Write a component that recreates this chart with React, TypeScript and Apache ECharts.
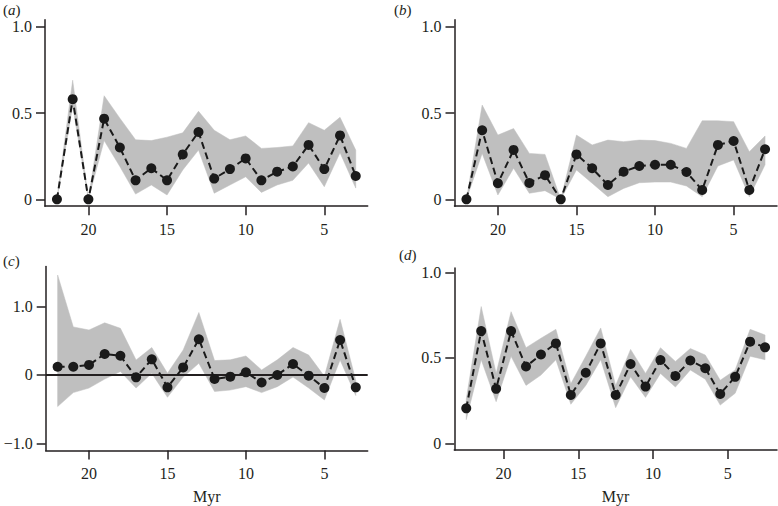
import React, { useEffect, useRef } from "react";
import * as echarts from "echarts";

// ---------- data ----------
const yearsABC = [22, 21, 20, 19, 18, 17, 16, 15, 14, 13, 12, 11, 10, 9, 8, 7, 6, 5, 4, 3];
const yearsD = [22.5, 21.5, 20.5, 19.5, 18.5, 17.5, 16.5, 15.5, 14.5, 13.5, 12.5, 11.5, 10.5, 9.5, 8.5, 7.5, 6.5, 5.5, 4.5, 3.5, 2.5];

const meanA = [0, 0.58, 0, 0.467, 0.3, 0.11, 0.18, 0.11, 0.26, 0.39, 0.12, 0.175, 0.237, 0.11, 0.16, 0.19, 0.315, 0.175, 0.37, 0.135];
const upperA = [0, 0.69, 0, 0.6, 0.47, 0.345, 0.34, 0.36, 0.385, 0.51, 0.4, 0.345, 0.367, 0.295, 0.3, 0.309, 0.444, 0.4, 0.475, 0.285];
const lowerA = [0, 0.54, 0, 0.34, 0.19, 0.03, 0.083, 0.025, 0.17, 0.285, 0.035, 0.083, 0.13, 0.04, 0.083, 0.11, 0.21, 0.073, 0.27, 0.065];

const meanB = [0, 0.4, 0.093, 0.286, 0.095, 0.14, 0, 0.26, 0.18, 0.083, 0.16, 0.193, 0.2, 0.2, 0.158, 0.054, 0.315, 0.338, 0.054, 0.29];
const upperB = [0, 0.546, 0.372, 0.41, 0.266, 0.26, 0, 0.372, 0.315, 0.343, 0.334, 0.343, 0.34, 0.324, 0.295, 0.455, 0.455, 0.45, 0.276, 0.367];
const lowerB = [0, 0.266, 0.025, 0.18, 0.035, 0.05, 0, 0.17, 0.093, 0.015, 0.063, 0.096, 0.1, 0.1, 0.077, 0.015, 0.193, 0.228, 0.015, 0.2];

const meanC = [0.12, 0.12, 0.146, 0.306, 0.28, -0.034, 0.228, -0.18, 0.11, 0.52, -0.058, -0.024, 0.039, -0.11, 0.0, 0.16, -0.01, -0.19, 0.51, -0.18];
const upperC = [1.456, 0.7, 0.655, 0.76, 0.68, 0.218, 0.4, 0.025, 0.364, 0.91, 0.21, 0.22, 0.277, 0.073, 0.22, 0.4, 0.29, -0.02, 0.81, -0.08];
const lowerC = [-0.46, -0.257, -0.19, -0.06, 0.05, -0.19, 0.025, -0.325, -0.03, 0.17, -0.24, -0.22, -0.17, -0.257, -0.17, -0.03, -0.19, -0.364, 0.218, -0.3];

const meanD = [0.206, 0.657, 0.32, 0.657, 0.45, 0.52, 0.585, 0.284, 0.414, 0.585, 0.284, 0.465, 0.333, 0.488, 0.395, 0.485, 0.44, 0.29, 0.39, 0.595, 0.562];
const upperD = [0.26, 0.8, 0.41, 0.77, 0.56, 0.615, 0.667, 0.35, 0.51, 0.675, 0.34, 0.55, 0.41, 0.56, 0.48, 0.555, 0.517, 0.37, 0.43, 0.667, 0.634];
const lowerD = [0.14, 0.49, 0.245, 0.51, 0.34, 0.4, 0.49, 0.23, 0.34, 0.49, 0.21, 0.39, 0.27, 0.41, 0.33, 0.43, 0.376, 0.225, 0.294, 0.51, 0.49];

const xTicks = [20, 15, 10, 5];
const yTicksPos = [0, 0.5, 1];
const yTicksC = [-1, 0, 1];
const zeroLineC = [0, 0];
const panelLabels = ["a", "b", "c", "d"];
const xAxisName = "Myr";

// ---------- styling ----------
const FONT = "Liberation Serif";
const INK = "#231f20";
const BAND = "#bfbfbf";
const FS = 16;

const panels = [
  { years: yearsABC, mean: meanA, up: upperA, lo: lowerA, grid: { left: 45, top: 19.8, width: 322.7, height: 186.4 }, x: [2.24, 22.76], y: [-0.04, 1.04], yt: yTicksPos, name: false },
  { years: yearsABC, mean: meanB, up: upperB, lo: lowerB, grid: { left: 454.5, top: 19.8, width: 322.5, height: 186.4 }, x: [2.24, 22.76], y: [-0.04, 1.04], yt: yTicksPos, name: false },
  { years: yearsABC, mean: meanC, up: upperC, lo: lowerC, grid: { left: 45.7, top: 266.5, width: 322, height: 184 }, x: [2.24, 22.76], y: [-1.1, 1.58], yt: yTicksC, name: true },
  { years: yearsD, mean: meanD, up: upperD, lo: lowerD, grid: { left: 454.3, top: 268, width: 322.7, height: 182 }, x: [1.7, 23.3], y: [-0.037, 1.025], yt: yTicksPos, name: true },
];

const labelPos = [
  { x: 3, y: 2 },
  { x: 394, y: 2 },
  { x: 3, y: 253 },
  { x: 399, y: 247 },
];

function fmtY(v: number) {
  if (Math.abs(v) < 1e-9) return "0";
  const s = Math.abs(v).toFixed(1);
  return v < 0 ? "\u2212" + s : s;
}

function buildOption() {
  const grid: any[] = [];
  const xAxis: any[] = [];
  const yAxis: any[] = [];
  const series: any[] = [];
  const lineStyle = { color: INK, width: 1.5 };
  const labelStyle = { fontFamily: FONT, fontSize: FS, color: INK };

  panels.forEach((p, i) => {
    grid.push({ ...p.grid, containLabel: false });
    xAxis.push({
      type: "value",
      gridIndex: i,
      min: p.x[0],
      max: p.x[1],
      inverse: true,
      axisLine: { show: true, onZero: false, lineStyle },
      axisTick: { show: true, length: 9, customValues: xTicks, lineStyle },
      axisLabel: { show: true, customValues: xTicks, margin: 15, ...labelStyle },
      splitLine: { show: false },
      name: p.name ? xAxisName : "",
      nameLocation: "middle",
      nameGap: 38,
      nameTextStyle: { ...labelStyle },
    });
    yAxis.push({
      type: "value",
      gridIndex: i,
      min: p.y[0],
      max: p.y[1],
      axisLine: { show: true, onZero: false, lineStyle },
      axisTick: { show: true, length: 9, customValues: p.yt, lineStyle },
      axisLabel: { show: true, customValues: p.yt, margin: 13, formatter: (v: number) => fmtY(v), ...labelStyle },
      splitLine: { show: false },
    });

    const years = p.years;
    const up = p.up;
    const lo = p.lo;
    series.push({
      type: "custom",
      xAxisIndex: i,
      yAxisIndex: i,
      silent: true,
      z: 1,
      data: years.map((x, k) => [x, lo[k], up[k]]),
      encode: { x: 0, y: [1, 2] },
      renderItem: (params: any, api: any) => {
        if (params.dataIndex !== 0) return null;
        const pts: number[][] = [];
        for (let k = 0; k < years.length; k++) pts.push(api.coord([years[k], up[k]]));
        for (let k = years.length - 1; k >= 0; k--) pts.push(api.coord([years[k], lo[k]]));
        return { type: "polygon", shape: { points: pts }, style: { fill: BAND, stroke: BAND, lineWidth: 0.5 } };
      },
    });

    if (i === 2) {
      series.push({
        type: "line",
        xAxisIndex: i,
        yAxisIndex: i,
        silent: true,
        z: 2,
        symbol: "none",
        data: [
          [p.x[0], zeroLineC[0]],
          [p.x[1], zeroLineC[1]],
        ],
        lineStyle: { color: INK, width: 2, type: "solid" },
      });
    }

    series.push({
      type: "line",
      xAxisIndex: i,
      yAxisIndex: i,
      z: 3,
      symbol: "circle",
      symbolSize: 10,
      showAllSymbol: true,
      data: years.map((x, k) => [x, p.mean[k]]),
      itemStyle: { color: "#1a1a1a" },
      lineStyle: { color: "#1a1a1a", width: 2, type: [7, 4] },
    });
  });

  const graphic = panelLabels.map((l, i) => ({
    type: "text",
    x: labelPos[i].x,
    y: labelPos[i].y,
    style: {
      text: "{p|(}{i|" + l + "}{p|)}",
      rich: {
        p: { fontFamily: FONT, fontSize: 15, fill: INK, fontStyle: "normal" },
        i: { fontFamily: FONT, fontSize: 15, fill: INK, fontStyle: "italic" },
      },
    },
  }));

  return {
    animation: false,
    backgroundColor: "#ffffff",
    grid,
    xAxis,
    yAxis,
    series,
    graphic,
  };
}

export default function App() {
  const ref = useRef<HTMLDivElement>(null);
  useEffect(() => {
    if (!ref.current) return;
    const chart = echarts.init(ref.current, undefined, { renderer: "svg" });
    chart.setOption(buildOption() as any);
    return () => chart.dispose();
  }, []);
  return <div ref={ref} style={{ position: "absolute", left: 0, top: 0, width: 778, height: 506 }} />;
}
